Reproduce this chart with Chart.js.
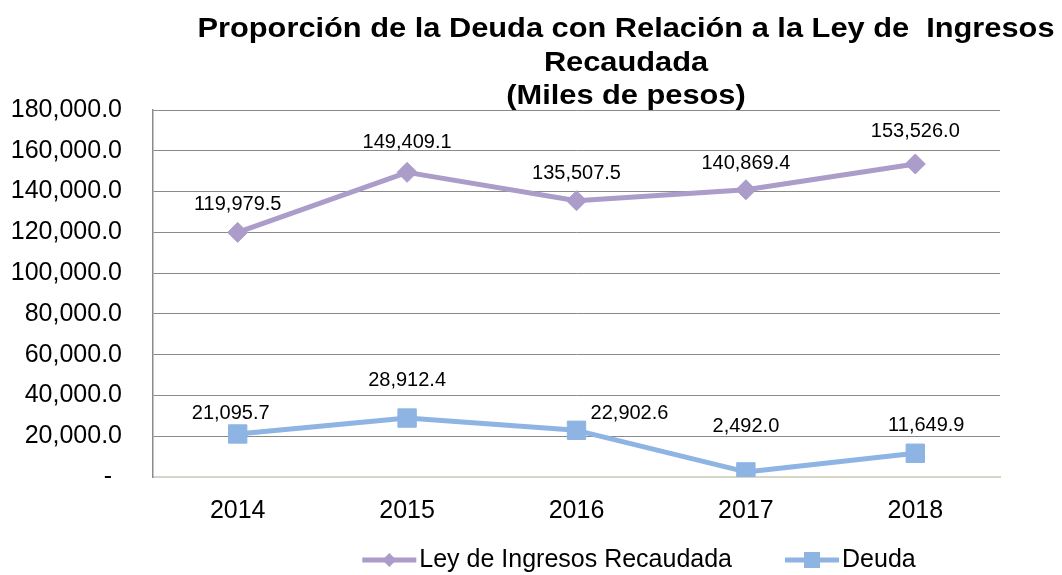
<!DOCTYPE html>
<html>
<head>
<meta charset="utf-8">
<script src="https://cdn.jsdelivr.net/npm/chart.js@4/dist/chart.umd.min.js"></script>
<style>
  html, body { margin: 0; padding: 0; background: #fff; }
</style>
</head>
<body>
<canvas id="chart" width="1062" height="575"></canvas>
<script>
const years = ['2014', '2015', '2016', '2017', '2018'];
const leyIngresos = [119979.5, 149409.1, 135507.5, 140869.4, 153526.0];
const deuda = [21095.7, 28912.4, 22902.6, 2492.0, 11649.9];
const seriesNames = ['Ley de Ingresos Recaudada', 'Deuda'];
const titleLines = ['Proporción de la Deuda con Relación a la Ley de  Ingresos', 'Recaudada', '(Miles de pesos)'];
const yMax = 180000;
const yStep = 20000;

const purple = '#ab9cc9';
const blue = '#8eb4e3';
const font = '"Liberation Sans", Arial, sans-serif';

// label nudges relative to each point (Excel had them hand placed)
const labelNudge = [
  { dx: [0, 0, 0, 0, 0], dy: [-28, -30, -27, -26, -32] },
  { dx: [-7, 0, 53, 0, 11], dy: [-21, -38, -17, -45, -28] }
];

const fmt = v => v.toLocaleString('en-US', { minimumFractionDigits: 1, maximumFractionDigits: 1 });

const extras = {
  id: 'extras',
  afterDatasetsDraw(chart) {
    const ctx = chart.ctx;
    ctx.save();
    ctx.fillStyle = '#000';

    // data labels
    ctx.font = '20px ' + font;
    ctx.textAlign = 'center';
    ctx.textBaseline = 'middle';
    chart.data.datasets.forEach((ds, di) => {
      chart.getDatasetMeta(di).data.forEach((pt, i) => {
        ctx.fillText(fmt(ds.data[i]), pt.x + labelNudge[di].dx[i], pt.y + labelNudge[di].dy[i]);
      });
    });

    // title
    ctx.font = 'bold 28px ' + font;
    ctx.textBaseline = 'alphabetic';
    const sx = 857 / ctx.measureText(titleLines[0]).width;
    const base = [37, 71, 104];
    titleLines.forEach((t, i) => {
      ctx.save();
      ctx.translate(626, base[i]);
      ctx.scale(sx, 1);
      ctx.fillText(t, 0, 0);
      ctx.restore();
    });

    // legend
    ctx.font = '25px ' + font;
    ctx.textAlign = 'left';
    ctx.textBaseline = 'middle';
    const items = chart.data.datasets.map(ds => ({
      label: ds.label, color: ds.borderColor, style: ds.pointStyle,
      w: 54 + 3 + ctx.measureText(ds.label).width
    }));
    const gap = 53;
    const total = items.reduce((s, it) => s + it.w, 0) + gap * (items.length - 1);
    let x = 639 - total / 2;
    const y = 560;
    items.forEach(it => {
      ctx.strokeStyle = it.color;
      ctx.fillStyle = it.color;
      ctx.lineWidth = 5;
      ctx.beginPath();
      ctx.moveTo(x, y);
      ctx.lineTo(x + 54, y);
      ctx.stroke();
      const cx = x + 27;
      ctx.beginPath();
      if (it.style === 'rectRot') {
        ctx.moveTo(cx - 7, y); ctx.lineTo(cx, y - 7); ctx.lineTo(cx + 7, y); ctx.lineTo(cx, y + 7);
        ctx.closePath();
      } else {
        ctx.rect(cx - 8, y - 8, 16, 16);
      }
      ctx.fill();
      ctx.fillStyle = '#000';
      ctx.fillText(it.label, x + 57, y);
      x += it.w + gap;
    });
    ctx.restore();
  }
};

new Chart(document.getElementById('chart'), {
  type: 'line',
  data: {
    labels: years,
    datasets: [
      {
        label: seriesNames[0],
        data: leyIngresos,
        borderColor: purple,
        backgroundColor: purple,
        borderWidth: 5,
        borderJoinStyle: 'round',
        pointStyle: 'rectRot',
        pointRadius: 10,
        pointBorderWidth: 1,
        pointBackgroundColor: purple,
        pointBorderColor: purple
      },
      {
        label: seriesNames[1],
        data: deuda,
        borderColor: blue,
        backgroundColor: blue,
        borderWidth: 5,
        borderJoinStyle: 'round',
        pointStyle: 'rect',
        pointRadius: 13,
        pointBorderWidth: 1,
        pointBackgroundColor: blue,
        pointBorderColor: blue
      }
    ]
  },
  options: {
    responsive: false,
    animation: false,
    events: [],
    layout: { padding: { top: 110, bottom: 53, left: 0, right: 62 } },
    plugins: {
      legend: { display: false },
      title: { display: false },
      tooltip: { enabled: false }
    },
    scales: {
      x: {
        offset: true,
        grid: { display: false },
        border: { color: '#d6d6c6', width: 2 },
        ticks: { color: '#000', font: { size: 25, family: font }, padding: 11 },
        afterFit: s => { s.height = 45; }
      },
      y: {
        min: 0,
        max: yMax,
        grid: {
          color: ctx => ctx.tick && ctx.tick.value === 0 ? 'rgba(0,0,0,0)' : '#8a8a8a',
          lineWidth: 1,
          drawTicks: false
        },
        border: { color: '#8a8a8a', width: 1.5 },
        ticks: {
          stepSize: yStep,
          color: '#000',
          font: { size: 25, family: font },
          padding: 31,
          callback: v => v === 0 ? '-\u2009\u2009' : fmt(v)
        },
        afterFit: s => { s.width = 153; }
      }
    }
  },
  plugins: [extras]
});
</script>
</body>
</html>
